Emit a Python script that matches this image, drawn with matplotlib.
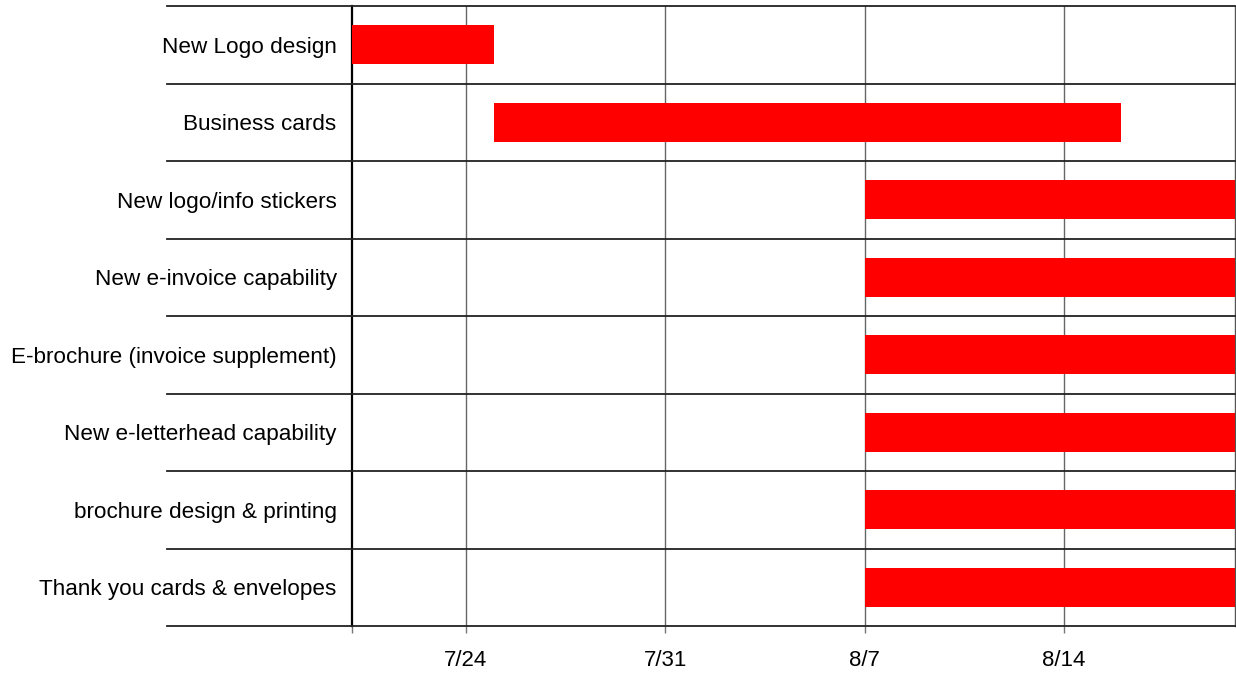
import matplotlib.pyplot as plt
import matplotlib.dates as mdates
import pandas as pd

plt.rcParams['font.family'] = ['Liberation Sans', 'DejaVu Sans']

tasks = ['New Logo design', 'Business cards', 'New logo/info stickers',
         'New e-invoice capability', 'E-brochure (invoice supplement)',
         'New e-letterhead capability', 'brochure design & printing',
         'Thank you cards & envelopes']
starts = ['2020-07-20', '2020-07-25', '2020-08-07', '2020-08-07',
          '2020-08-07', '2020-08-07', '2020-08-07', '2020-08-07']
ends = ['2020-07-25', '2020-08-16', '2020-08-21', '2020-08-21',
        '2020-08-21', '2020-08-21', '2020-08-21', '2020-08-21']
tick_dates = ['2020-07-20', '2020-07-24', '2020-07-31', '2020-08-07', '2020-08-14']
tick_labels = ['', '7/24', '7/31', '8/7', '8/14']
x_start, x_end = '2020-07-20', '2020-08-20'

s = mdates.date2num(pd.to_datetime(starts))
e = mdates.date2num(pd.to_datetime(ends))
ticks = mdates.date2num(pd.to_datetime(tick_dates))
n = len(tasks)
ypos = list(range(n))

fig = plt.figure(figsize=(12.36, 6.73), dpi=100)
ax = fig.add_axes([352 / 1236, 1 - 626 / 673, 883 / 1236, 620 / 673])

ax.barh(ypos, e - s, left=s, height=0.5, color='#ff0000', zorder=3)

ax.set_xlim(mdates.date2num(pd.Timestamp(x_start)), mdates.date2num(pd.Timestamp(x_end)))
ax.set_ylim(n - 0.5, -0.5)
ax.set_yticks(ypos)
ax.set_yticklabels(tasks, fontsize=16.2)
ax.tick_params(axis='y', length=0, pad=11)
ax.set_xticks(ticks)
ax.set_xticklabels(tick_labels, fontsize=16)
ax.tick_params(axis='x', length=5, color='#777777', width=1, pad=12)

for t in ticks[1:]:
    ax.axvline(t, color='#666666', lw=1, zorder=1)

# row separators reaching into the label column
for b in [i - 0.5 for i in range(n + 1)]:
    ax.plot([-0.21, 1], [b, b], transform=ax.get_yaxis_transform(),
            color='#222222', lw=1.3, clip_on=False, zorder=4)

for side in ['top', 'bottom']:
    ax.spines[side].set_visible(False)
ax.spines['left'].set_linewidth(1.6)
ax.spines['left'].set_color('black')
ax.spines['right'].set_color('#555555')
ax.spines['right'].set_linewidth(1)

fig.savefig('out.png', dpi=100)
